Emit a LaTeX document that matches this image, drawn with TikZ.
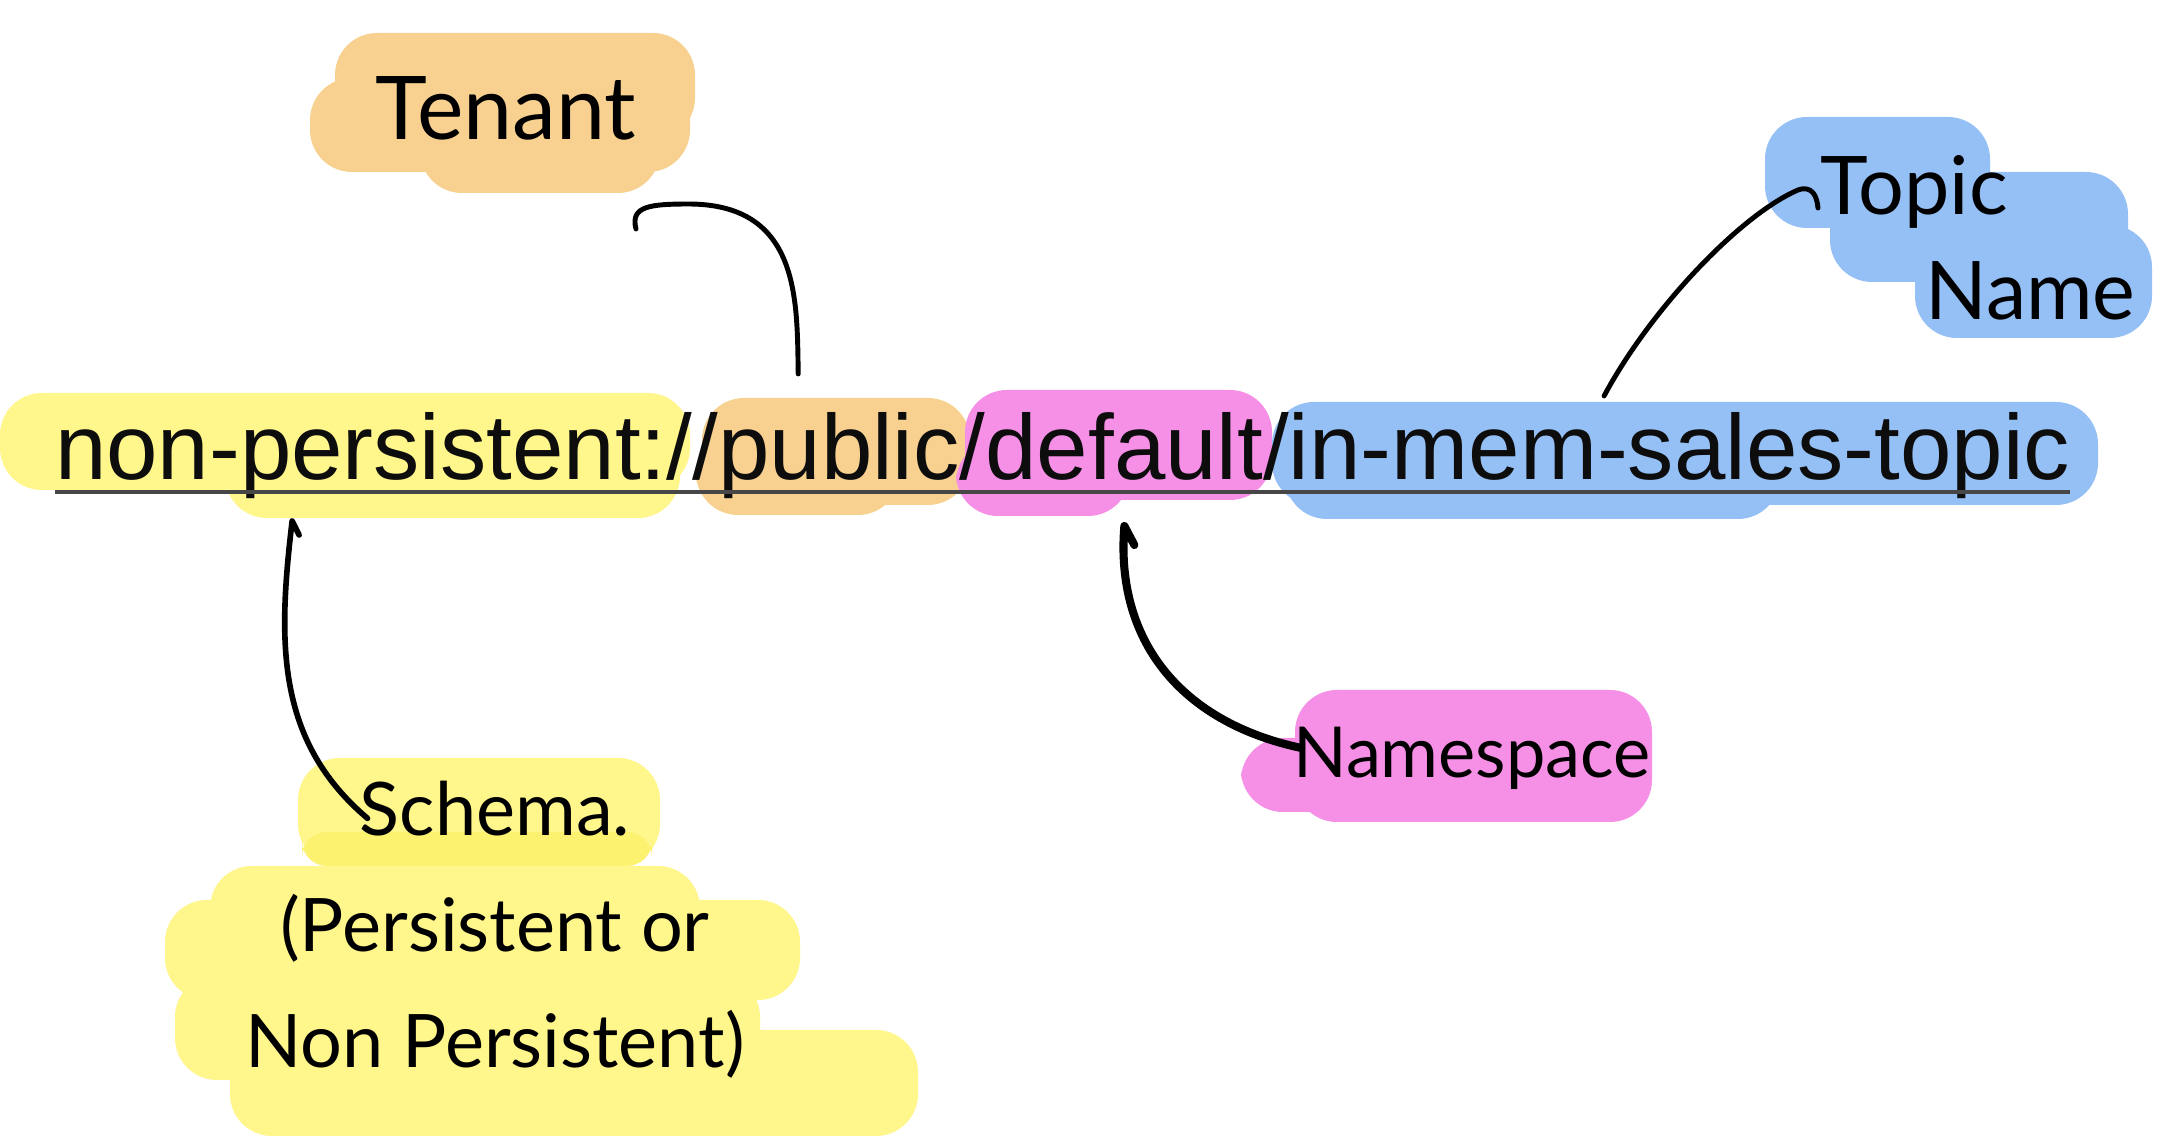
\documentclass[tikz,border=0pt]{standalone}
\usepackage{fontspec}
\setmainfont{Liberation Sans}
\newfontfamily\handfont{Lato}
\usetikzlibrary{calc}
\definecolor{hlyellow}{RGB}{255,246,140}
\definecolor{hlyellowdk}{RGB}{252,242,112}
\definecolor{hlorange}{RGB}{248,209,145}
\definecolor{hlpink}{RGB}{246,143,230}
\definecolor{hlblue}{RGB}{149,192,246}
\begin{document}
\begin{tikzpicture}[x=0.01cm,y=-0.01cm,
  seg/.style={inner sep=0pt,outer sep=0pt,anchor=base west,text=black!95,font=\fontsize{26.3}{30}\selectfont},
  hand/.style={inner sep=0pt,outer sep=0pt,text=black},
  wire/.style={line width=1.5pt,line cap=round,line join=round,black},
  blob/.style={rounded corners=0.42cm}]
\useasboundingbox (0,0) rectangle (2162,1140);
\fill[white] (0,0) rectangle (2162,1140);
% ---- highlight blobs on the main line
\fill[hlyellow,blob] (0,393) rectangle (690,490);
\fill[hlyellow,blob] (225,425) rectangle (680,518);
\fill[hlorange,blob] (702,398) rectangle (970,505);
\fill[hlorange,blob] (696,440) rectangle (900,515);
\fill[hlpink,blob] (965,390) rectangle (1272,500);
\fill[hlpink,blob] (956,440) rectangle (1130,516);
\fill[hlblue,blob] (1272,402) rectangle (2098,505);
\fill[hlblue,blob] (1285,440) rectangle (1780,519);
% ---- label blobs
\fill[hlorange,blob] (335,33) rectangle (695,140);
\fill[hlorange,blob] (310,78) rectangle (690,172);
\fill[hlorange,blob] (420,120) rectangle (660,193);
\fill[hlblue,blob] (1765,117) rectangle (1990,228);
\fill[hlblue,blob] (1830,172) rectangle (2128,282);
\fill[hlblue,blob] (1915,225) rectangle (2152,338);
\fill[hlpink,blob] (1295,690) rectangle (1652,822);
\fill[hlpink,blob] (1241,738) rectangle (1420,812);
\fill[hlyellow,blob] (298,758) rectangle (660,866);
\fill[hlyellowdk,rounded corners=0.25cm] (302,832) rectangle (652,866);
\fill[hlyellow,blob] (210,866) rectangle (700,960);
\fill[hlyellow,blob] (165,900) rectangle (800,1000);
\fill[hlyellow,blob] (175,975) rectangle (760,1080);
\fill[hlyellow,blob] (230,1030) rectangle (918,1136);
% ---- main text
\node[seg] (n1) at (55,480) {non-persistent://};
\node[seg] (n2) at (n1.base east) {public};
\node[seg] (s1) at (n2.base east) {/};
\node[seg] (n4) at (s1.base east) {default};
\node[seg] (s2) at (n4.base east) {/};
\node[seg] (n6) at (s2.base east) {in-mem-sales-topic};
\draw[line width=1.1pt,black!72] ([yshift=-0.12cm]n1.base west) -- ([yshift=-0.12cm]n6.base east);
% ---- labels
\node[hand,font=\handfont\fontsize{25}{30}\selectfont] (tenant) at (506,108) {Tenant};
\node[hand,align=left,font=\handfont\fontsize{23}{30}\selectfont] (topic) at (1978,238) {Topic\\\hspace{1.05cm}Name};
\node[hand,font=\handfont\fontsize{20}{24}\selectfont] (ns) at (1472,758) {Namespace};
\node[hand,align=center,font=\handfont\fontsize{21}{33}\selectfont] (schema) at (495,930) {Schema.\\(Persistent or\\Non Persistent)};
% ---- connectors
\coordinate (tenantEnd) at (636,229);
\coordinate (topicEnd) at (1818,208);
\draw[wire,line width=1.4pt] ([xshift=0.8cm,yshift=1.06cm]n2.base west)
  .. controls (797,300) and (800,205) .. (690,204)
  .. controls (650,204) and (630,206) .. (tenantEnd);
\draw[wire,line width=1.4pt] ([xshift=3.15cm,yshift=0.84cm]n6.base west)
  .. controls (1650,310) and (1740,215) .. (1798,190)
  .. controls (1812,185) and (1817,196) .. (topicEnd);
\draw[wire,line width=1.6pt] ([xshift=2.44cm,yshift=-0.55cm]n1.base west)
  -- ([xshift=2.37cm,yshift=-0.41cm]n1.base west)
  .. controls (278,640) and (275,740) .. ([xshift=1.22cm,yshift=-0.37cm]schema.north west);
\draw[wire,line width=2.3pt] ([xshift=0.1cm,yshift=-0.65cm]n4.base)
  -- ([yshift=-0.46cm]n4.base)
  .. controls (1115,640) and (1180,722) .. ([xshift=0.08cm,yshift=0.1cm]ns.west);
\end{tikzpicture}
\end{document}
